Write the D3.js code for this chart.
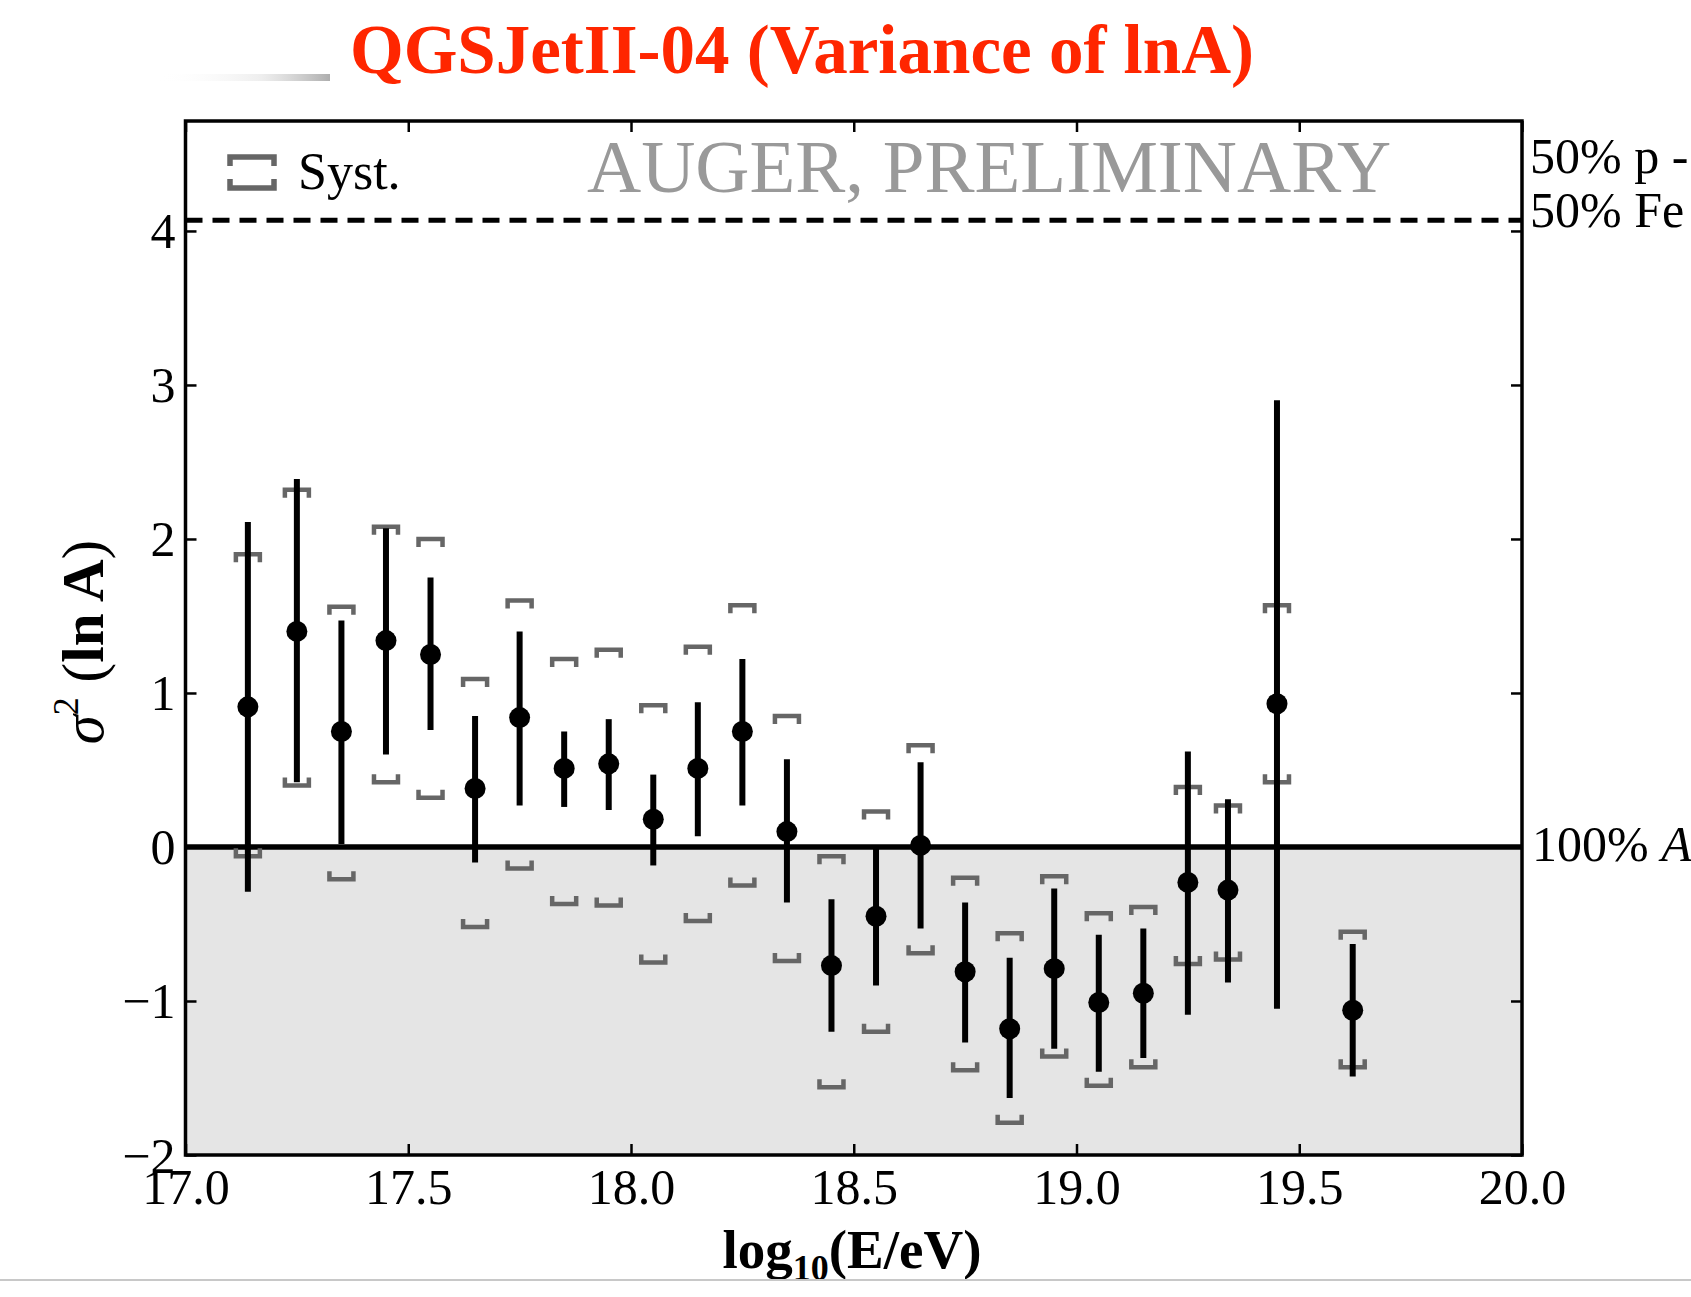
<!DOCTYPE html>
<html><head><meta charset="utf-8">
<script src="https://cdn.jsdelivr.net/npm/d3@7"></script>
<style>body{margin:0;background:#fff}svg{display:block}</style>
</head><body>
<svg id="c" width="1691" height="1297"></svg>
<script>
// ---- data ----
const energies = [17.14, 17.25, 17.35, 17.45, 17.55, 17.65, 17.75, 17.85, 17.95, 18.05,
                  18.15, 18.25, 18.35, 18.45, 18.55, 18.65, 18.75, 18.85, 18.95, 19.05,
                  19.15, 19.25, 19.34, 19.45, 19.62];
const variance = [0.91, 1.40, 0.75, 1.34, 1.25, 0.38, 0.84, 0.51, 0.54, 0.18,
                  0.51, 0.75, 0.10, -0.77, -0.45, 0.01, -0.81, -1.18, -0.79, -1.01,
                  -0.95, -0.23, -0.28, 0.93, -1.06];
const statHigh = [2.11, 2.39, 1.47, 2.07, 1.75, 0.85, 1.40, 0.75, 0.83, 0.47,
                  0.94, 1.22, 0.57, -0.34, 0.00, 0.55, -0.36, -0.72, -0.27, -0.57,
                  -0.53, 0.62, 0.31, 2.90, -0.63];
const statLow  = [-0.29, 0.42, 0.02, 0.60, 0.76, -0.10, 0.27, 0.26, 0.24, -0.12,
                  0.07, 0.27, -0.36, -1.20, -0.90, -0.53, -1.27, -1.63, -1.31, -1.46,
                  -1.37, -1.09, -0.88, -1.05, -1.49];
const systHigh = [1.90, 2.32, 1.56, 2.08, 2.00, 1.09, 1.60, 1.22, 1.28, 0.92,
                  1.30, 1.57, 0.85, -0.06, 0.23, 0.66, -0.20, -0.56, -0.19, -0.43,
                  -0.39, 0.39, 0.27, 1.57, -0.55];
const systLow  = [-0.06, 0.40, -0.21, 0.42, 0.32, -0.52, -0.14, -0.37, -0.38, -0.75,
                  -0.48, -0.25, -0.74, -1.56, -1.20, -0.69, -1.45, -1.79, -1.36, -1.55,
                  -1.43, -0.76, -0.73, 0.42, -1.43];
const xTicks = [17.0, 17.5, 18.0, 18.5, 19.0, 19.5, 20.0];
const yTicks = [-2, -1, 0, 1, 2, 3, 4];
const xDomain = [17.0, 20.0];
const yDomain = [-2, 4.714];
const mixedLevel = 4.07;   // 50% p - 50% Fe
const pureLevel = 0;       // 100% A
const titleText = "QGSJetII-04 (Variance of lnA)";
const watermark = "AUGER, PRELIMINARY";

// ---- layout ----
const L = 185.5, R = 1522, T = 121, B = 1155;
const svg = d3.select("#c");
const serif = "'Liberation Serif','Times New Roman',Times,serif";
const x = d3.scaleLinear().domain(xDomain).range([L, R]);
const y = d3.scaleLinear().domain(yDomain).range([B, T]);

// faint smudge left of title
const defs = svg.append("defs");
const g1 = defs.append("linearGradient").attr("id", "smudge");
g1.append("stop").attr("offset", "0").attr("stop-color", "#fff").attr("stop-opacity", 0);
g1.append("stop").attr("offset", "0.6").attr("stop-color", "#ddd").attr("stop-opacity", 0.5);
g1.append("stop").attr("offset", "1").attr("stop-color", "#999").attr("stop-opacity", 0.8);
svg.append("rect").attr("x", 158).attr("y", 74).attr("width", 172).attr("height", 7)
  .attr("fill", "url(#smudge)");

// title
svg.append("text").attr("x", 802).attr("y", 73).attr("text-anchor", "middle")
  .attr("font-family", serif).attr("font-weight", "bold").attr("font-size", 69)
  .attr("fill", "#ff2600").text(titleText);

// shaded region below pure composition
svg.append("rect").attr("x", L).attr("y", y(pureLevel)).attr("width", R - L)
  .attr("height", y(yDomain[0]) - y(pureLevel)).attr("fill", "#e5e5e5");

// reference lines
svg.append("line").attr("x1", L).attr("x2", R).attr("y1", y(mixedLevel)).attr("y2", y(mixedLevel))
  .attr("stroke", "#000").attr("stroke-width", 5).attr("stroke-dasharray", "17,10");
svg.append("line").attr("x1", L).attr("x2", R).attr("y1", y(pureLevel)).attr("y2", y(pureLevel))
  .attr("stroke", "#000").attr("stroke-width", 5.5);

const data = energies.map((e, i) => ({e, v: variance[i], sh: statHigh[i], sl: statLow[i],
  yh: systHigh[i], yl: systLow[i]}));

// systematic brackets
const bw = 12, leg = 8;
const sys = svg.append("g").attr("fill", "none").attr("stroke", "#666").attr("stroke-width", 4.5)
  .attr("stroke-linejoin", "miter");
sys.selectAll("path.up").data(data).join("path").attr("class", "up")
  .attr("d", d => `M${x(d.e) - bw},${y(d.yh) + leg}V${y(d.yh)}H${x(d.e) + bw}V${y(d.yh) + leg}`);
sys.selectAll("path.lo").data(data).join("path").attr("class", "lo")
  .attr("d", d => `M${x(d.e) - bw},${y(d.yl) - leg}V${y(d.yl)}H${x(d.e) + bw}V${y(d.yl) - leg}`);

// stat error bars
svg.append("g").selectAll("line").data(data).join("line")
  .attr("x1", d => x(d.e)).attr("x2", d => x(d.e))
  .attr("y1", d => y(d.sh)).attr("y2", d => y(d.sl))
  .attr("stroke", "#000").attr("stroke-width", 6);
svg.append("g").selectAll("circle").data(data).join("circle")
  .attr("cx", d => x(d.e)).attr("cy", d => y(d.v)).attr("r", 10.5).attr("fill", "#000");

// axes
const tick = 11;
function styleAxis(g) {
  g.selectAll(".domain").remove();
  g.selectAll(".tick line").attr("stroke", "#000").attr("stroke-width", 2.5);
  g.selectAll(".tick text").attr("font-family", serif).attr("font-size", 50).attr("fill", "#000");
}
svg.append("g").attr("transform", `translate(0,${B})`)
  .call(d3.axisBottom(x).tickValues(xTicks).tickFormat(d3.format(".1f")).tickSize(-tick).tickSizeOuter(0))
  .call(styleAxis)
  .call(g => g.selectAll(".tick text").attr("y", 49).attr("dy", 0));
svg.append("g").attr("transform", `translate(0,${T})`)
  .call(d3.axisTop(x).tickValues(xTicks).tickFormat("").tickSize(-tick).tickSizeOuter(0))
  .call(styleAxis);
svg.append("g").attr("transform", `translate(${L},0)`)
  .call(d3.axisLeft(y).tickValues(yTicks).tickFormat(d3.format("d")).tickSize(-tick).tickPadding(10).tickSizeOuter(0))
  .call(styleAxis)
  .call(g => g.selectAll(".tick text").attr("dy", "0.34em"));
svg.append("g").attr("transform", `translate(${R},0)`)
  .call(d3.axisRight(y).tickValues(yTicks).tickFormat("").tickSize(-tick).tickSizeOuter(0))
  .call(styleAxis);

// frame
svg.append("rect").attr("x", L).attr("y", T).attr("width", R - L).attr("height", B - T)
  .attr("fill", "none").attr("stroke", "#000").attr("stroke-width", 3.5);

// legend
const lx = 252, lw = 22;
const lg = svg.append("g").attr("fill", "none").attr("stroke", "#666").attr("stroke-width", 5.5);
lg.append("path").attr("d", `M${lx - lw},166V157H${lx + lw}V166`);
lg.append("path").attr("d", `M${lx - lw},179V188H${lx + lw}V179`);
svg.append("text").attr("x", 298).attr("y", 189).attr("font-family", serif).attr("font-size", 52)
  .attr("fill", "#000").text("Syst.");

// watermark
svg.append("text").attr("x", 587).attr("y", 192).attr("font-family", serif).attr("font-size", 75)
  .attr("fill", "#999").text(watermark);

// right-hand labels
const rl = svg.append("g").attr("font-family", serif).attr("font-size", 50).attr("fill", "#000");
rl.append("text").attr("x", 1530).attr("y", 173).text("50% p -");
rl.append("text").attr("x", 1530).attr("y", 227).text("50% Fe");
const t100 = rl.append("text").attr("x", 1532).attr("y", 861);
t100.append("tspan").text("100% ");
t100.append("tspan").attr("font-style", "italic").text("A");

// y label
const yl = svg.append("text").attr("transform", "translate(103,642) rotate(-90)")
  .attr("text-anchor", "middle").attr("font-family", serif).attr("font-size", 59).attr("fill", "#000");
yl.append("tspan").attr("font-style", "italic").text("σ");
yl.append("tspan").attr("font-size", 36).attr("dy", -25).text("2");
yl.append("tspan").attr("dy", 25).text(" (");
yl.append("tspan").attr("font-weight", "bold").text("ln A");
yl.append("tspan").text(")");

// x label
const xl = svg.append("text").attr("x", 852).attr("y", 1268).attr("text-anchor", "middle")
  .attr("font-family", serif).attr("font-size", 55).attr("font-weight", "bold").attr("fill", "#000");
xl.append("tspan").text("log");
xl.append("tspan").attr("font-size", 36).attr("dy", 12).text("10");
xl.append("tspan").attr("dy", -12).text("(E/eV)");

// bottom crop edge
svg.append("rect").attr("x", 0).attr("y", 1280).attr("width", 1691).attr("height", 17).attr("fill", "#fff");
svg.append("line").attr("x1", 0).attr("x2", 1691).attr("y1", 1280).attr("y2", 1280)
  .attr("stroke", "#c8c8c8").attr("stroke-width", 2);
</script>
</body></html>
